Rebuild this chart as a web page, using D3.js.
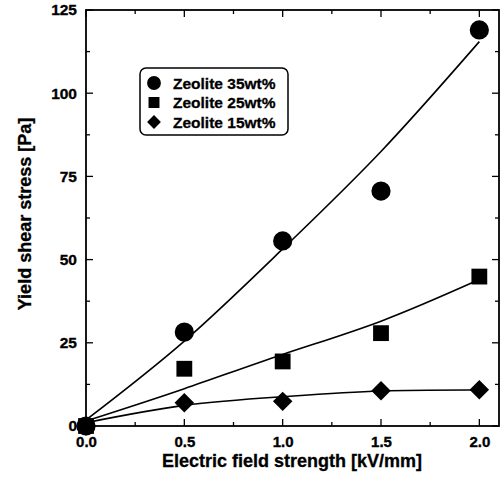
<!DOCTYPE html>
<html><head><meta charset="utf-8">
<script src="https://cdn.jsdelivr.net/npm/d3@7"></script>
<style>body{margin:0;background:#fff}svg{display:block}text{font-family:"Liberation Sans",Arial,sans-serif;font-weight:bold}</style>
</head><body>
<svg id="c" width="500" height="477"></svg>
<script>
const xVals = [0.0, 0.5, 1.0, 1.5, 2.0];
const z35 = [0, 28.2, 55.6, 70.6, 119];
const z25 = [0, 17.2, 19.4, 27.9, 44.9];
const z15 = [0, 7.0, 7.4, 10.6, 10.9];
const fit35 = [1.8, 25.5, 53.2, 82.5, 115.5];
const fit25 = [1.5, 11.2, 21.5, 31.5, 44];
const fit15 = [1.0, 6.2, 8.8, 10.5, 10.8];
const legendLabels = ["Zeolite 35wt%", "Zeolite 25wt%", "Zeolite 15wt%"];
const xTicks = [0.0, 0.5, 1.0, 1.5, 2.0];
const yTicks = [0, 25, 50, 75, 100, 125];

const svg = d3.select("#c");
const L = 86, R = 499, T = 10, B = 426;
const x = d3.scaleLinear().domain([0, 2.1]).range([L, R]);
const y = d3.scaleLinear().domain([0, 125]).range([B, T]);
const FF = "'Liberation Sans',Arial,sans-serif";

svg.append("rect").attr("x", L).attr("y", T).attr("width", R - L).attr("height", B - T)
  .attr("fill", "none").attr("stroke", "#000").attr("stroke-width", 1.8);

const xMinor = d3.range(0, 2.101, 0.25);
const yMinor = d3.range(0, 125.1, 12.5);
const gx = svg.append("g").attr("transform", `translate(0,${B})`)
  .call(d3.axisBottom(x).tickValues(xTicks).tickFormat(d3.format(".1f")).tickSizeInner(0).tickSizeOuter(0).tickPadding(10));
gx.select(".domain").remove();
gx.selectAll("text").attr("font-size", 15).attr("fill", "#000").attr("font-family", FF).attr("stroke", "#000").attr("stroke-width", 0.35);
const gy = svg.append("g").attr("transform", `translate(${L},0)`)
  .call(d3.axisLeft(y).tickValues(yTicks).tickSizeInner(0).tickSizeOuter(0).tickPadding(9));
gy.select(".domain").remove();
gy.selectAll("text").attr("font-size", 15.5).attr("fill", "#000").attr("font-family", FF).attr("stroke", "#000").attr("stroke-width", 0.35);

const tk = svg.append("g").attr("stroke", "#000").attr("stroke-width", 1.3);
xMinor.forEach((v, i) => {
  const len = (i % 2 === 0) ? 7 : 4;
  tk.append("line").attr("x1", x(v)).attr("x2", x(v)).attr("y1", B).attr("y2", B - len);
  tk.append("line").attr("x1", x(v)).attr("x2", x(v)).attr("y1", T).attr("y2", T + len);
});
yMinor.forEach((v, i) => {
  const len = (i % 2 === 0) ? 7 : 4;
  tk.append("line").attr("y1", y(v)).attr("y2", y(v)).attr("x1", L).attr("x2", L + len);
  tk.append("line").attr("y1", y(v)).attr("y2", y(v)).attr("x1", R).attr("x2", R - len);
});

const line = d3.line().x((d, i) => x(xVals[i])).y(d => y(d)).curve(d3.curveNatural);
[fit35, fit25, fit15].forEach(f => {
  svg.append("path").attr("d", line(f)).attr("fill", "none").attr("stroke", "#000").attr("stroke-width", 1.6);
});

const sym = [d3.symbolCircle, d3.symbolSquare, d3.symbolSquare];
const rot = [0, 0, 45];
const sizes = [290, 250, 190];
[z35, z25, z15].forEach((s, k) => {
  svg.append("g").selectAll("path").data(s).join("path")
    .attr("d", d3.symbol().type(sym[k]).size(sizes[k]))
    .attr("transform", (d, i) => `translate(${x(xVals[i])},${y(d)}) rotate(${rot[k]})`)
    .attr("fill", "#000");
});

svg.append("rect").attr("x", 140).attr("y", 68).attr("width", 148).attr("height", 67)
  .attr("rx", 6).attr("fill", "#fff").attr("stroke", "#000").attr("stroke-width", 1.5);
const lsizes = [150, 120, 95];
legendLabels.forEach((t, k) => {
  const cy = 83 + k * 19.5;
  svg.append("path").attr("d", d3.symbol().type(sym[k]).size(lsizes[k])).attr("transform", `translate(154,${cy}) rotate(${rot[k]})`).attr("fill", "#000");
  svg.append("text").attr("x", 173).attr("y", cy + 5.5).attr("font-size", 15.5).attr("stroke", "#000").attr("stroke-width", 0.3).text(t);
});

svg.append("text").attr("x", 292).attr("y", 467).attr("text-anchor", "middle").attr("font-size", 18).attr("stroke", "#000").attr("stroke-width", 0.3).text("Electric field strength [kV/mm]");
svg.append("text").attr("transform", `translate(31,214) rotate(-90)`).attr("text-anchor", "middle").attr("font-size", 18).attr("stroke", "#000").attr("stroke-width", 0.3).text("Yield shear stress [Pa]");
</script>
</body></html>
